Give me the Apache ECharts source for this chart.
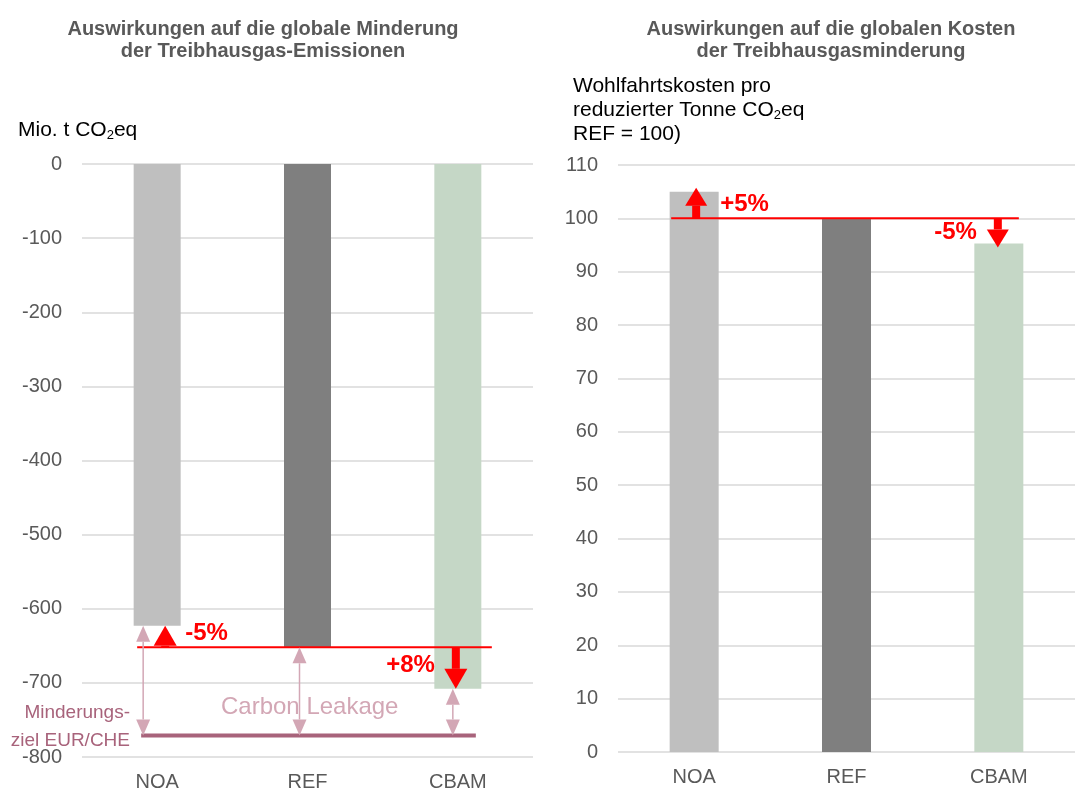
<!DOCTYPE html>
<html>
<head>
<meta charset="utf-8">
<script src="https://cdn.jsdelivr.net/npm/echarts@6/dist/echarts.min.js"></script>
<style>
  html, body { margin: 0; padding: 0; background: #fff; }
  #chart { width: 1075px; height: 792px; }
</style>
</head>
<body>
<div id="chart"></div>
<script>
// Daten
const categories = ['NOA', 'REF', 'CBAM']
const barColors = ['#bfbfbf', '#7f7f7f', '#c5d7c6']
const emissions = [-623, -652, -708]       // Mio. t CO2eq
const emissionTarget = -771               // Minderungsziel EUR/CHE
const emissionChange = ['-5%', null, '+8%']
const costs = [105, 100, 95.3]             // REF = 100
const costChange = ['+5%', null, '-5%']
const emissionTicks = { min: -800, max: 0, interval: 100 }
const costTicks = { min: 0, max: 110, interval: 10 }

const FONT = 'Liberation Sans, Arial, sans-serif'
const RED = '#ff0000'
const PINK = '#d3a7b5'
const PURPLE = '#a8637b'
const axisGray = '#595959'

const chart = echarts.init(document.getElementById('chart'))

// Pfeil (Schaft + Spitze) von y0 nach y1 bei x
function arrow (x, y0, y1, opt) {
  const dir = y1 > y0 ? 1 : -1
  const hl = opt.head
  const hw = opt.headW / 2
  const shaftEnd = y1 - dir * hl
  return [
    { type: 'rect', shape: { x: x - opt.shaftW / 2, y: Math.min(y0, shaftEnd), width: opt.shaftW, height: Math.abs(shaftEnd - y0) }, style: { fill: opt.color } },
    { type: 'polygon', shape: { points: [[x - hw, shaftEnd], [x + hw, shaftEnd], [x, y1]] }, style: { fill: opt.color } }
  ]
}

function doubleArrow (x, y0, y1, color) {
  const hl = 16
  const hw = 7
  const dir = y1 > y0 ? 1 : -1
  return [
    { type: 'line', shape: { x1: x, y1: y0 + dir * hl, x2: x, y2: y1 - dir * hl }, style: { stroke: color, lineWidth: 1.5 } },
    { type: 'polygon', shape: { points: [[x - hw, y0 + dir * hl], [x + hw, y0 + dir * hl], [x, y0]] }, style: { fill: color } },
    { type: 'polygon', shape: { points: [[x - hw, y1 - dir * hl], [x + hw, y1 - dir * hl], [x, y1]] }, style: { fill: color } }
  ]
}

const leakageData = categories.map((c, i) => [i, emissions[i], emissionTarget])
const emisArrowData = [[0, emissions[1], emissions[0]], [2, emissions[1], emissions[2]]]
const costArrowData = [[0, costs[1], costs[0]], [2, costs[1], costs[2]]]

const subRich = { sub: { fontSize: 13, padding: [10, 0, 0, 0], fontFamily: FONT, fill: '#000' } }

const option = {
  animation: false,
  textStyle: { fontFamily: FONT },
  title: [
    {
      text: 'Auswirkungen auf die globale Minderung\nder Treibhausgas-Emissionen',
      left: 258, top: 13, textAlign: 'center',
      textStyle: { fontSize: 20, fontWeight: 'bold', color: axisGray, lineHeight: 22, fontFamily: FONT }
    },
    {
      text: 'Auswirkungen auf die globalen Kosten\nder Treibhausgasminderung',
      left: 826, top: 13, textAlign: 'center',
      textStyle: { fontSize: 20, fontWeight: 'bold', color: axisGray, lineHeight: 22, fontFamily: FONT }
    }
  ],
  grid: [
    { left: 82, width: 451, top: 164, height: 594 },
    { left: 618, width: 464, top: 165, height: 587 }
  ],
  xAxis: [0, 1].map(g => ({
    type: 'category', gridIndex: g, data: categories,
    axisLine: { show: false }, axisTick: { show: false },
    axisLabel: { fontSize: 20, color: axisGray, margin: 15, fontFamily: FONT }
  })),
  yAxis: [
    Object.assign({ type: 'value', gridIndex: 0 }, emissionTicks),
    Object.assign({ type: 'value', gridIndex: 1 }, costTicks)
  ].map(a => Object.assign(a, {
    axisLine: { show: false }, axisTick: { show: false },
    splitLine: { lineStyle: { color: '#d9d9d9', width: 1.5 } },
    axisLabel: { fontSize: 20, color: axisGray, margin: 20, fontFamily: FONT }
  })),
  graphic: [
    {
      type: 'text', left: 18, top: 120,
      style: { text: 'Mio. t CO{sub|2}eq', fontSize: 21, fill: '#000', fontFamily: FONT, rich: subRich }
    },
    {
      type: 'text', left: 573, top: 74,
      style: { text: 'Wohlfahrtskosten pro\nreduzierter Tonne CO{sub|2}eq\nREF = 100)', fontSize: 21, lineHeight: 24, fill: '#000', fontFamily: FONT, rich: subRich }
    },
    {
      type: 'text', left: 221, top: 695,
      style: { text: 'Carbon Leakage', fontSize: 24, fill: PINK, fontFamily: FONT }
    },
    {
      type: 'text', x: 130, y: 699,
      style: { text: 'Minderungs-\nziel EUR/CHE', fontSize: 19, lineHeight: 28, fill: PURPLE, fontFamily: FONT, align: 'right' }
    }
  ],
  series: [
    {
      type: 'bar', xAxisIndex: 0, yAxisIndex: 0, barWidth: 47,
      data: emissions.map((v, i) => ({ value: v, itemStyle: { color: barColors[i] } }))
    },
    {
      type: 'bar', xAxisIndex: 1, yAxisIndex: 1, barWidth: 49,
      data: costs.map((v, i) => ({ value: v, itemStyle: { color: barColors[i] } }))
    },
    // Referenzlinie + Zielgerade links
    {
      type: 'custom', xAxisIndex: 0, yAxisIndex: 0, z: 5,
      data: [[1, emissions[1], emissionTarget]],
      renderItem (params, api) {
        const ref = api.coord([0, api.value(1)])
        const refEnd = api.coord([2, api.value(1)])
        const tg = api.coord([0, api.value(2)])
        const tgEnd = api.coord([2, api.value(2)])
        return {
          type: 'group',
          children: [
            { type: 'line', shape: { x1: tg[0] - 16, y1: tg[1], x2: tgEnd[0] + 18, y2: tg[1] }, style: { stroke: PURPLE, lineWidth: 4 } },
            { type: 'line', shape: { x1: ref[0] - 20, y1: ref[1], x2: refEnd[0] + 34, y2: ref[1] }, style: { stroke: RED, lineWidth: 2 } }
          ]
        }
      }
    },
    // Carbon-Leakage-Pfeile
    {
      type: 'custom', xAxisIndex: 0, yAxisIndex: 0, z: 6,
      data: leakageData,
      renderItem (params, api) {
        const offs = [-14, -8, -5]
        const i = api.value(0)
        const a = api.coord([i, api.value(1)])
        const b = api.coord([i, api.value(2)])
        return { type: 'group', children: doubleArrow(a[0] + offs[i], a[1], b[1], PINK) }
      }
    },
    // rote Veränderungspfeile links
    {
      type: 'custom', xAxisIndex: 0, yAxisIndex: 0, z: 7,
      data: emisArrowData,
      renderItem (params, api) {
        const i = api.value(0)
        const a = api.coord([i, api.value(1)])
        const b = api.coord([i, api.value(2)])
        const x = a[0] + (i === 0 ? 8 : -2)
        const children = arrow(x, a[1], b[1], { color: RED, head: 20, headW: 23, shaftW: 8 })
        const up = b[1] < a[1]
        children.push({
          type: 'text',
          style: {
            text: emissionChange[i], fontSize: 24, fontWeight: 'bold', fill: RED, fontFamily: FONT,
            x: up ? x + 20 : x - 21, y: up ? a[1] - 14 : a[1] + 18,
            align: up ? 'left' : 'right', verticalAlign: 'middle'
          }
        })
        return { type: 'group', children }
      }
    },
    // Referenzlinie rechts
    {
      type: 'custom', xAxisIndex: 1, yAxisIndex: 1, z: 5,
      data: [[1, costs[1]]],
      renderItem (params, api) {
        const a = api.coord([0, api.value(1)])
        const b = api.coord([2, api.value(1)])
        return { type: 'line', shape: { x1: a[0] - 23, y1: a[1], x2: b[0] + 20, y2: a[1] }, style: { stroke: RED, lineWidth: 2 } }
      }
    },
    // rote Veränderungspfeile rechts
    {
      type: 'custom', xAxisIndex: 1, yAxisIndex: 1, z: 7,
      data: costArrowData,
      renderItem (params, api) {
        const i = api.value(0)
        const a = api.coord([i, api.value(1)])
        const b = api.coord([i, api.value(2)])
        const x = a[0] + (i === 0 ? 2 : -1)
        const up = b[1] < a[1]
        const tipY = up ? b[1] - 4 : b[1] + 4
        const children = arrow(x, a[1], tipY, { color: RED, head: 18, headW: 22, shaftW: 8 })
        children.push({
          type: 'text',
          style: {
            text: costChange[i], fontSize: 24, fontWeight: 'bold', fill: RED, fontFamily: FONT,
            x: up ? x + 24 : x - 21, y: up ? a[1] - 14 : a[1] + 14,
            align: up ? 'left' : 'right', verticalAlign: 'middle'
          }
        })
        return { type: 'group', children }
      }
    }
  ]
}

chart.setOption(option)
</script>
</body>
</html>
